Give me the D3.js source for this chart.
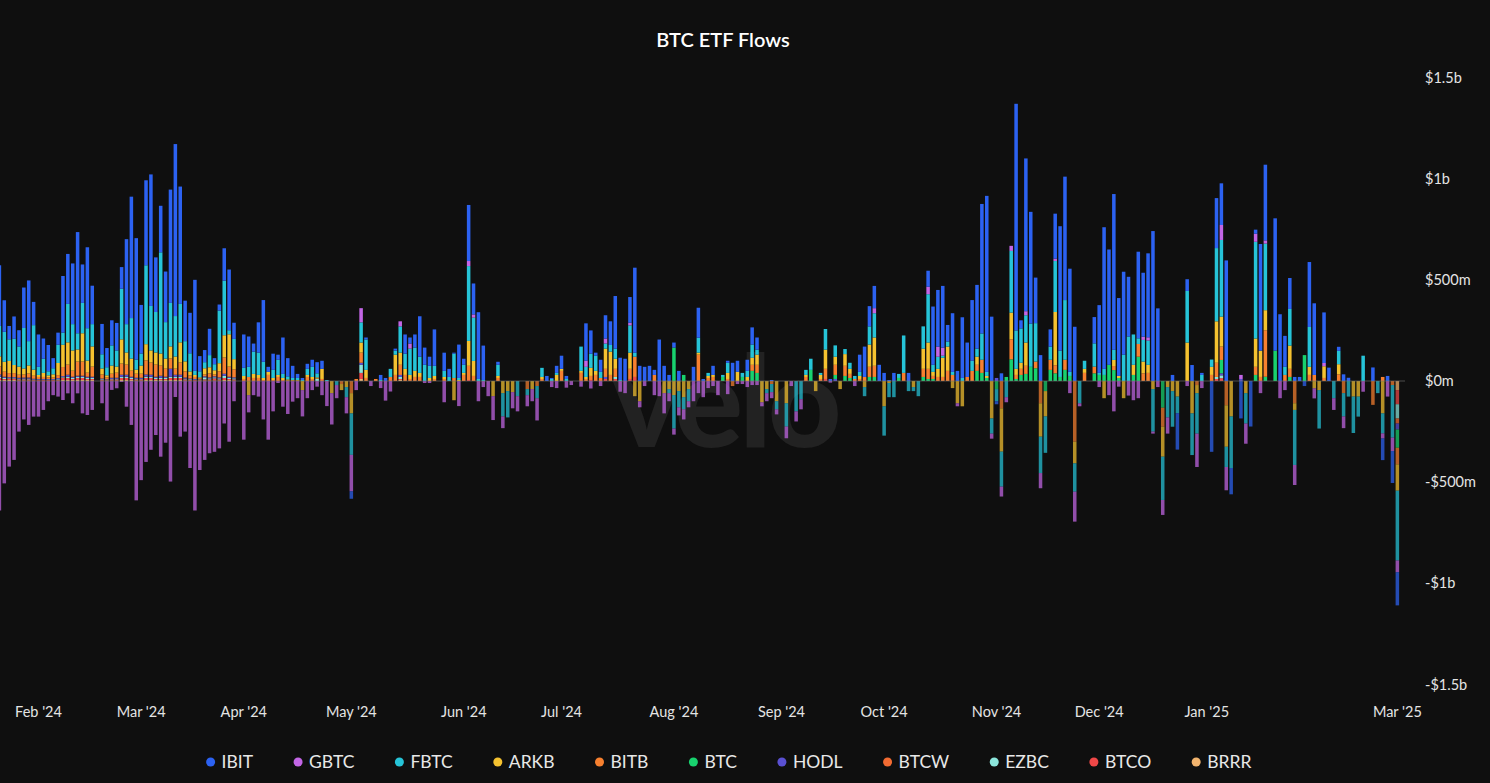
<!DOCTYPE html>
<html>
<head>
<meta charset="utf-8">
<script src="https://cdn.jsdelivr.net/npm/d3@7"></script>
<style>
  body { margin: 0; background: #0f0f0f; }
  svg { display: block; font-family: Lato, "Noto Sans", sans-serif; }
</style>
</head>
<body>
<svg id="chart" width="1490" height="783"></svg>
<script>
// series in legend order, flows in $m per trading weekday
var keys = ["IBIT", "GBTC", "FBTC", "ARKB", "BITB", "BTC", "HODL", "BTCW", "EZBC", "BTCO", "BRRR"];
var colors = ["#2c62f2", "#c366e6", "#26c4d8", "#f5c230", "#f7802f", "#18d26e", "#5a50d2", "#f26b32", "#8ce6dc", "#f04848", "#f2b46e"];

var firstDay = "2024-01-22", lastDay = "2025-02-25";
var tickDays = ["2024-02-01", "2024-03-01", "2024-04-01", "2024-05-01", "2024-06-03", "2024-07-01", "2024-08-01",
                "2024-09-02", "2024-10-01", "2024-11-01", "2024-12-02", "2025-01-01", "2025-02-25"];
var tickLabels = ["Feb '24", "Mar '24", "Apr '24", "May '24", "Jun '24", "Jul '24", "Aug '24",
                  "Sep '24", "Oct '24", "Nov '24", "Dec '24", "Jan '25", "Mar '25"];
var yTicks = [-1500, -1000, -500, 0, 500, 1000, 1500];

// one group of five = one week (Mon..Fri)
var IBIT = [300,156,66,110,80, 200,300,115,160,100, 130,50,60,280,247, 300,500,190,400,190, 0,150,95,124,136,
 107,420,600,600,240, 420,650,270,230,250, 560,850,580,200,200, 450,75,60,130,30, 30,160,300,80,0,
 165,150,40,150,305, 25,80,25,180,90, 60,20,10,25,35, 55,40,0,0,0, 0,0,-37,0,0,
 10,0,0,25,15, 0,10,0,95,30, 65,200,85,45,180, 0,90,40,5,165, 30,277,153,330,170,
 0,0,15,0,0, 0,0,0,0,0, 0,0,25,5,35, 65,15,0,0,0, 185,115,15,60,115,
 117,260,110,110,127, 420,75,70,75,25, 205,75,30,25,50, 0,0,70,148,10, 0,45,0,0,10,
 90,55,0,55,85, 60,0,0,5,0, 0,0,0,0,0, 0,0,0,0,0, 10,0,0,0,0,
 0,85,150,100,110, 80,40,5,40,0, 0,40,0,0,0, 79,288,280,305,82, 290,50,300,170,300,
 315,640,870,318,-15, 38,0,0,1120,40, 755,552,225,128,0, 85,222,615,610,510, 268,0,0,0,130,
 335,700,570,770,385, 410,295,0,428,316, 415,741,359,0,0, 30,-180,0,58,79, 0,10,0,-350,247,
 206,596,-130,0,-185, 0,-225,20,527,374, 0,654,330,153,153, 20,20,-25,321,354, 0,250,66,0,20,
 33,16,0,0,0, 0,67,0,-107,25, -158,-164];

var GBTC = [-640,-506,-423,-390,-250, -190,-217,-176,-176,-143, -100,-70,-77,-94,-61, -110,-61,-160,-168,-143, 0,-110,-196,-44,-36,
 -5,-127,-217,-590,-490, -400,-340,-267,-374,-305, -497,-79,-275,-250,-430, -640,-440,-390,-357,-350, -333,-210,-300,-100,0,
 -290,-85,-70,-77,-190, -290,-150,-10,-127,-163, -102,-85,-130,-85,-45, -28,-70,-124,-155,-65, 0,-80,-180,-45,70,
 0,-25,0,-35,-97, -52,0,25,0,25, 0,0,-10,-10,0, 0,-105,0,0,-124, 0,25,16,-100,-30,
 -75,-118,0,-58,0, -80,-75,0,-55,-60, -110,0,0,-30,-35, 0,-33,-20,0,-28, 30,-37,0,-25,25,
 0,0,-53,-60,13, 0,-30,-25,0,-70, -75,-100,-40,-30,-40, -50,-30,-100,-60,-80, -35,-25,-70,0,-65,
 0,-15,-15,-30,-20, -20,-20,-40,-30,-25, 0,-58,-25,-50,-50, 0,0,0,0,0, -8,0,0,0,0,
 -25,0,0,0,25, 0,0,0,0,0, 0,0,0,0,0, 37,0,50,40,0, 0,-15,0,0,0,
 0,0,0,-25,0, -49,-25,25,0,0, 20,0,0,-75,0, 0,12,0,0,-60, -148,-15,0,0,0,
 -30,0,-70,-150,-28, 0,-72,-95,-85,16, 16,-10,-30,-74,-80, 0,0,0,-25,0, -165,-35,0,0,0,
 74,-115,0,0,20, -100,0,40,-60,16, 0,0,-85,-45,0, -99,0,0,0,-50, 0,16,0,-58,0,
 -58,0,0,0,-53, 0,0,0,-25,-77, -66,-58];

var FBTC = [150,148,107,130,100, 200,120,220,40,70, 20,30,90,60,190, 130,80,150,160,110, 0,70,40,100,80,
 250,140,200,50,60, 390,220,200,500,180, 215,200,190,100,90, 20,30,30,60,30, 260,270,20,100,0,
 40,50,110,110,80, 0,40,75,20,15, 10,10,5,30,50, 20,0,5,0,-20, 0,-50,-205,0,100,
 150,0,0,5,0, 40,20,130,75,130, 115,80,80,60,50, 0,30,20,120,10, 40,370,214,10,5,
 0,0,55,-115,-130, 0,-75,0,-30,0, -60,45,0,10,10, 0,10,0,0,120, 50,70,75,30,25,
 33,50,5,0,135, 20,0,0,0,0, 0,0,-20,-165,-80, -60,-60,0,74,0, 15,0,0,10,50,
 0,0,20,30,65, 25,0,-20,-40,-40, 0,-115,0,-150,-90, 25,55,0,10,102, 0,56,0,25,30,
 15,20,-45,90,120, 0,-145,-70,-80,20, 185,-50,-20,-75,110, 239,35,60,10,25, 15,0,15,0,50,
 40,130,20,-75,-60, -173,-80,305,190,170, 135,214,190,-180,-180, 65,252,130,295,20, -140,-110,40,0,115,
 10,30,0,50,0, 130,220,150,28,107, 120,-210,0,-214,-150, -176,-82,0,255,-206, -200,30,0,36,362,
 379,-100,-255,0,0, -150,0,478,0,329, 0,0,0,40,181, -272,0,0,197,0, -190,0,0,-85,66,
 -115,-77,-180,-99,125, 0,0,-60,-99,0, -260,-345];

var ARKB = [50,49,60,40,40, 30,40,30,10,20, 10,15,60,110,110, 100,60,140,60,100, 0,30,10,40,30,
 120,60,60,20,40, 80,60,60,60,50, 60,60,100,50,20, 10,5,30,30,20, 40,110,160,50,0,
 15,-70,20,15,10, 15,10,10,10,5, 3,3,-45,10,10, 5,50,0,-60,0, -30,-30,-100,0,50,
 40,0,0,0,0, 0,100,60,30,20, 30,20,0,15,15, 0,10,0,-95,5, 10,123,74,0,0,
 0,-75,10,-60,-50, -55,0,0,0,-40, 0,10,0,0,30, 10,0,0,0,10, 10,40,20,0,100,
 115,50,0,0,80, -75,-100,0,0,0, 0,-60,-40,-70,-50, -80,-40,0,10,0, 10,10,0,0,30,
 0,45,0,20,35, 50,-105,-40,0,-100, 0,-110,0,0,0, 10,0,-50,20,95, 0,40,-40,58,25,
 0,15,-30,110,140, 0,-125,-10,0,0, 0,0,-30,0,100, 130,20,40,95,120, -35,-110,-125,0,0,
 40,0,10,-185,0, -214,0,132,30,30, 115,0,0,-165,-125, 0,263,0,0,0, -107,0,20,0,0,
 0,-85,0,30,10, -85,0,50,0,58, 40,-40,0,-148,-30, -50,-77,0,190,-160, -40,0,0,40,205,
 148,-205,-175,0,0, -60,0,140,130,99, 0,0,0,0,115, -33,0,0,40,-36, -45,58,0,0,50,
 0,0,-77,-77,0, 0,0,0,-160,0, 0,-130];

var BITB = [40,25,20,20,15, 15,20,15,10,10, 8,8,15,45,50, 30,70,70,20,50, 0,20,10,20,25,
 55,50,30,20,20, 70,60,60,50,40, 50,30,60,30,15, 10,5,10,20,10, 30,80,50,40,0,
 10,20,15,15,5, 30,5,20,5,3, 2,2,0,20,10, 3,10,0,0,0, -15,0,-60,10,50,
 15,0,10,0,0, 20,30,50,30,10, 20,20,0,0,10, 0,10,0,15,0, 30,70,25,0,0,
 0,0,15,0,0, 0,0,0,-40,0, -25,10,0,0,0, 50,0,0,0,40, 10,20,30,15,40,
 30,40,0,0,50, 100,0,0,0,30, 0,0,0,0,0, 0,0,0,130,0, 15,20,0,0,10,
 -25,0,0,0,30, 40,0,0,-15,0, 0,0,0,0,0, 20,0,0,10,50, 0,50,0,50,20,
 10,10,20,50,55, 0,0,0,0,0, 40,0,0,0,40, 50,15,20,20,50, 30,0,0,20,50,
 30,65,0,0,0, -135,0,99,20,30, 40,0,33,-110,0, 50,40,0,50,0, -300,0,40,0,33,
 0,0,0,20,0, 0,0,0,63,38, 40,0,0,-94,0, 0,0,0,0,0, -20,0,0,30,70,
 66,-120,0,0,0, 0,0,40,20,230, 0,0,0,30,40, -110,0,0,30,30, 0,15,0,0,33,
 -60,0,0,0,0, 0,-118,0,20,0, -20,-82];

var BTC = [0,0,0,0,0, 0,0,0,0,0, 0,0,0,0,0, 0,0,0,0,0, 0,0,0,0,0,
 0,0,0,0,0, 0,0,0,0,0, 0,0,0,0,0, 0,0,0,0,0, 0,0,0,0,0,
 0,0,0,0,0, 0,0,0,0,0, 0,0,0,0,0, 0,0,0,0,0, 0,0,0,0,0,
 0,0,0,0,0, 0,0,0,0,0, 0,0,0,0,0, 0,0,0,0,0, 0,0,0,0,0,
 0,0,0,0,0, 0,0,0,0,0, 0,0,0,0,0, 0,0,0,0,0, 0,0,0,0,0,
 0,0,0,0,0, 0,0,0,0,0, 0,0,0,165,0, 30,0,0,0,0, 0,0,0,20,0,
 0,0,20,0,50, 40,0,0,0,0, 0,0,0,0,0, 0,55,0,0,0, 0,20,0,25,15,
 0,0,0,20,20, 0,0,0,0,15, 0,0,0,0,20, 10,10,0,0,0, 0,0,0,0,0,
 50,40,15,0,-40, 0,20,107,10,30, 35,70,63,0,-50, 55,38,20,55,25, 0,0,0,0,38,
 30,30,80,54,15, 0,0,30,120,0, 0,0,0,-132,0, 0,0,0,0,0, 0,0,0,0,0,
 66,0,0,0,0, 0,0,30,0,21, 0,150,0,0,20, 0,0,128,0,0, 0,0,0,0,0,
 0,0,0,0,0, 0,0,0,0,0, 0,-90];

var HODL = [10,5,5,5,5, 5,5,3,3,3, 3,3,5,5,10, 5,5,5,5,5, 0,3,2,5,5,
 10,10,5,5,5, 10,10,5,10,5, 40,10,10,5,3, 3,2,5,5,5, 5,10,5,5,0,
 0,0,0,0,0, 0,0,0,0,0, 0,0,0,0,0, 0,0,0,0,0, 0,0,0,0,10,
 0,0,0,0,0, 0,0,10,0,0, 0,0,0,0,0, 0,0,0,0,0, 0,0,0,0,0,
 0,0,0,0,0, 0,0,0,0,0, 0,0,0,0,0, 0,0,0,0,0, 0,0,0,0,10,
 0,0,0,0,0, 0,0,0,0,0, 0,0,0,0,0, 0,0,0,0,0, 0,0,0,0,0,
 0,0,0,0,0, 0,0,0,0,0, 0,0,0,0,0, 0,0,0,0,0, 0,10,0,0,0,
 0,0,0,0,0, 0,0,0,0,0, 0,0,0,0,0, 0,0,0,0,0, 0,0,0,0,0,
 0,0,0,0,15, 0,0,0,0,0, 0,0,0,0,0, 0,0,0,0,0, 0,0,0,0,0,
 0,0,0,0,0, 0,0,0,0,0, 0,0,0,0,0, 0,0,0,0,0, 0,0,0,0,0,
 10,0,0,0,10, 0,0,0,0,0, 0,0,0,0,0, 0,0,0,0,0, 0,0,0,0,0,
 0,0,0,0,0, 0,0,0,0,0, 0,-30];

var BTCW = [2,1,1,1,0, 1,1,0,0,0, 0,0,0,1,1, 1,1,1,1,1, 0,0,0,0,0,
 1,1,1,0,0, 2,1,1,1,1, 1,1,1,1,0, 0,0,0,0,0, 0,1,1,0,0,
 0,0,0,0,0, 0,0,0,0,0, 0,0,0,0,0, 0,0,0,0,0, 0,0,0,0,0,
 0,0,0,0,0, 0,0,0,0,0, 0,0,0,0,0, 0,0,0,0,0, 0,0,0,0,0,
 0,0,0,0,0, 0,0,0,0,0, 0,0,0,0,0, 0,0,0,0,0, 0,0,0,0,0,
 0,0,0,0,0, 0,0,0,0,0, 0,0,0,0,0, 0,0,0,0,0, 0,0,0,0,0,
 0,0,0,0,0, 0,0,0,0,0, 0,0,0,0,0, 0,0,0,0,0, 0,0,0,0,0,
 0,0,0,0,0, 0,0,0,0,0, 0,0,0,0,0, 0,0,0,0,0, 0,0,0,0,0,
 0,0,0,0,0, 0,0,0,0,0, 0,0,0,0,0, 0,0,0,0,0, 0,0,0,0,0,
 0,0,0,0,0, 0,0,0,0,0, 0,0,0,0,0, 0,0,0,0,0, 0,0,0,0,0,
 0,0,0,0,0, 0,0,0,0,0, 0,0,0,0,0, 0,0,0,0,0, 0,0,0,0,0,
 0,0,0,0,0, 0,0,0,0,0, 0,-25];

var EZBC = [5,5,3,3,3, 3,3,2,2,2, 2,2,3,3,5, 5,5,5,5,5, 0,3,2,3,3,
 5,5,5,3,3, 5,5,5,5,5, 5,5,5,3,3, 2,2,10,5,5, 5,10,5,5,0,
 0,0,0,0,0, 0,0,0,0,0, 0,0,0,0,0, 10,0,0,0,0, 0,0,0,0,40,
 0,0,0,0,0, 0,0,10,0,0, 0,0,0,0,0, 0,0,0,0,0, 0,0,0,0,0,
 0,0,0,0,0, 0,0,0,0,0, 0,0,0,0,0, 0,0,0,0,0, 0,0,0,0,0,
 0,10,0,0,0, 0,0,0,0,0, 0,0,0,0,0, 0,0,0,0,0, 0,0,0,0,0,
 0,0,0,0,0, 0,0,0,0,0, 0,0,0,0,0, 0,0,0,0,0, 0,0,0,0,0,
 0,0,0,0,0, 0,0,0,0,0, 0,0,0,0,0, 0,0,0,0,0, 0,0,0,0,0,
 0,0,0,0,0, 0,0,0,0,0, 0,0,0,0,0, 0,0,0,0,0, 0,0,0,0,0,
 0,0,0,0,0, 0,0,0,0,0, 0,0,0,0,0, 0,0,0,0,0, 0,0,0,0,10,
 14,0,0,0,0, 0,0,0,0,0, 0,0,0,0,0, 0,0,0,0,0, 0,0,0,0,0,
 0,0,0,0,0, 0,0,0,0,0, 0,-70];

var BTCO = [10,5,5,5,5, 5,5,3,3,3, 3,3,3,10,10, 5,10,10,5,5, 0,3,2,5,5,
 10,10,5,5,5, 10,10,5,5,5, 10,10,10,5,3, 3,2,5,5,10, 5,10,5,5,0,
 0,0,0,0,0, 0,0,0,0,0, 0,0,0,0,0, 0,0,0,0,0, 0,0,0,0,30,
 0,0,0,0,0, 0,0,5,0,0, 0,0,0,0,0, 0,0,0,0,0, 0,5,0,0,0,
 0,0,0,0,0, 0,0,0,0,0, 0,0,0,0,0, 0,0,0,0,0, 0,5,0,0,10,
 0,10,0,0,10, 20,0,0,0,0, 0,0,0,0,0, 0,0,0,0,0, 0,0,0,0,0,
 0,0,0,0,0, 0,0,0,0,0, 0,0,0,0,0, 0,0,0,0,10, 0,0,0,0,0,
 0,0,0,0,0, 0,0,0,0,0, 0,0,0,0,0, 0,0,0,0,0, 0,0,0,0,0,
 0,0,0,0,0, 0,0,0,0,0, 0,0,0,0,0, 0,0,0,0,0, 0,0,0,0,0,
 0,0,0,0,0, 0,0,0,0,0, 0,0,0,0,0, 0,0,0,0,0, 0,0,0,0,10,
 14,0,0,0,0, 0,0,0,0,0, 0,0,0,0,0, 0,0,0,0,0, 0,0,0,0,0,
 0,0,0,0,0, 0,0,0,0,0, 0,-70];

var BRRR = [5,5,5,5,3, 3,3,3,2,2, 2,2,3,5,5, 5,5,5,5,5, 0,3,2,3,3,
 5,5,5,3,3, 5,5,5,5,5, 5,5,5,3,3, 2,2,3,3,3, 3,5,5,3,0,
 0,0,0,0,0, 0,0,0,0,0, 0,0,0,0,0, 0,0,0,0,0, 0,0,0,0,10,
 0,0,0,0,0, 0,0,5,0,0, 0,0,0,0,0, 0,0,0,0,0, 0,0,0,0,0,
 0,0,0,0,0, 0,0,0,0,0, 0,0,0,0,0, 0,0,0,0,0, 0,0,0,0,0,
 0,0,0,0,0, 0,0,0,0,0, 0,0,0,0,0, 0,0,0,0,0, 0,0,0,0,0,
 0,0,0,0,0, 0,0,0,0,0, 0,0,0,0,0, 0,0,0,0,0, 0,0,0,0,0,
 0,0,0,0,0, 0,0,0,0,0, 0,0,0,0,0, 0,0,0,0,0, 0,0,0,0,0,
 0,0,0,0,0, 0,0,0,0,0, 0,0,0,0,0, 0,0,0,0,0, 0,0,0,0,0,
 0,0,0,0,0, 0,0,0,0,0, 0,0,0,0,0, 0,0,0,0,0, 0,0,0,0,0,
 0,0,0,0,0, 0,0,0,0,0, 0,0,0,0,0, 0,0,0,0,0, 0,0,0,0,0,
 0,0,0,0,0, 0,0,0,0,0, 0,-45];

var seriesByKey = {IBIT: IBIT, GBTC: GBTC, FBTC: FBTC, ARKB: ARKB, BITB: BITB, BTC: BTC,
                   HODL: HODL, BTCW: BTCW, EZBC: EZBC, BTCO: BTCO, BRRR: BRRR};

var width = 1490, height = 783;
var svg = d3.select("#chart");

svg.append("rect").attr("width", width).attr("height", height).attr("fill", "#0f0f0f");

// trading weekdays (holidays stay as empty slots)
var parseDay = d3.utcParse("%Y-%m-%d"), fmtDay = d3.utcFormat("%Y-%m-%d");
var days = d3.utcDay.range(parseDay(firstDay), d3.utcDay.offset(parseDay(lastDay), 1))
    .filter(function(d) { return d.getUTCDay() !== 0 && d.getUTCDay() !== 6; })
    .map(fmtDay);

var rows = days.map(function(day, i) {
    var r = {day: day};
    keys.forEach(function(k) { r[k] = seriesByKey[k][i]; });
    return r;
});

var color = d3.scaleOrdinal().domain(keys).range(colors);

var x = d3.scaleBand()
    .domain(days)
    .range([-3.05, 1399.8])
    .paddingInner(0.28)
    .paddingOuter(0.14);

var y = d3.scaleLinear()
    .domain([-1500, 1500])
    .range([684.5, 77.5]);

// title
svg.append("text")
    .attr("x", 723)
    .attr("y", 47)
    .attr("text-anchor", "middle")
    .attr("fill", "#ffffff")
    .attr("font-size", 20)
    .attr("font-weight", 600)
    .text("BTC ETF Flows");

// watermark
svg.append("text")
    .attr("x", 725)
    .attr("y", 447)
    .attr("text-anchor", "middle")
    .attr("fill", "#222222")
    .attr("font-size", 128)
    .attr("font-weight", 900)
    .attr("letter-spacing", -4)
    .text("velo");

// stacked bars, last legend key sits nearest zero
var layers = d3.stack()
    .keys(keys.slice().reverse())
    .offset(d3.stackOffsetDiverging)(rows);

svg.append("g")
    .selectAll("g")
    .data(layers)
    .join("g")
    .attr("fill", function(l) { return color(l.key); })
    .selectAll("rect")
    .data(function(l) { return l.filter(function(p) { return p[1] !== p[0]; }); })
    .join("rect")
    .attr("x", function(p) { return x(p.data.day); })
    .attr("y", function(p) { return y(p[1]); })
    .attr("width", x.bandwidth())
    .attr("height", function(p) { return y(p[0]) - y(p[1]); })
    .attr("fill-opacity", function(p) { return p[0] < 0 ? 0.72 : 1; });

// zero line
svg.append("line")
    .attr("x1", 0)
    .attr("x2", 1405)
    .attr("y1", y(0))
    .attr("y2", y(0))
    .attr("stroke", "#777")
    .attr("stroke-opacity", 0.6)
    .attr("stroke-width", 1.2);

// y axis on the right
function fmtMoney(v) {
    var s = v < 0 ? "-$" : "$";
    var a = Math.abs(v);
    if (a >= 1000) return s + (a / 1000) + "b";
    return s + a + "m";
}

var yAxis = svg.append("g")
    .attr("transform", "translate(1425,0)")
    .call(d3.axisRight(y).tickValues(yTicks).tickFormat(fmtMoney).tickSize(0).tickPadding(0));
yAxis.select(".domain").remove();
yAxis.selectAll("text")
    .attr("fill", "#e4e4e4")
    .attr("font-size", 14.5)
    .attr("font-family", "Lato, sans-serif");

// x axis
var xAxis = svg.append("g")
    .attr("transform", "translate(0,707)")
    .call(d3.axisBottom(x)
        .tickValues(tickDays)
        .tickFormat(function(d, i) { return tickLabels[i]; })
        .tickSize(0)
        .tickPadding(0));
xAxis.select(".domain").remove();
xAxis.selectAll("text")
    .attr("fill", "#e4e4e4")
    .attr("font-size", 14.5)
    .attr("font-family", "Lato, sans-serif");

// legend
var legend = svg.append("g").attr("transform", "translate(0,762)");
var items = legend.selectAll("g")
    .data(keys)
    .join("g");
items.append("circle")
    .attr("r", 4.5)
    .attr("cy", 0)
    .attr("fill", function(k) { return color(k); });
items.append("text")
    .attr("x", 11)
    .attr("dy", "0.36em")
    .attr("fill", "#e8e8e8")
    .attr("font-size", 17.5)
    .text(function(k) { return k; });

var gap = 45, xpos = 0, offsets = [];
items.each(function() {
    var w = d3.select(this).select("text").node().getComputedTextLength();
    offsets.push(xpos);
    xpos += 11 + w + gap;
});
var total = xpos - gap;
var start = 731 - total / 2;
items.attr("transform", function(k, i) { return "translate(" + (start + offsets[i]) + ",0)"; });
</script>
</body>
</html>
